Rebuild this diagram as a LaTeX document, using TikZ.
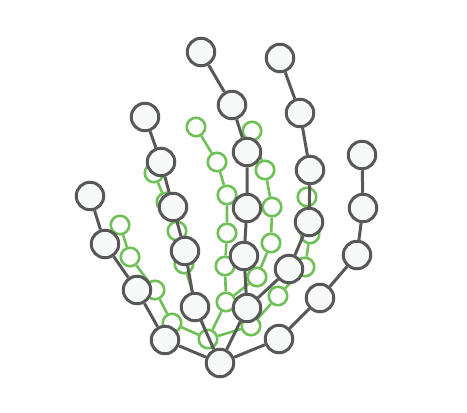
\documentclass[tikz,border=0pt]{standalone}
\usepackage{amsmath}
\usepackage{tikz}
\definecolor{bonegray}{RGB}{88,88,88}
\definecolor{jointfill}{RGB}{247,249,249}
\definecolor{ghostgreen}{RGB}{112,192,88}
\begin{document}
\begin{tikzpicture}[x=1pt,y=-1pt]
\tikzstyle{joint}=[circle,draw=bonegray,fill=jointfill,line width=3pt,minimum size=27.5pt,inner sep=0pt]
\tikzstyle{gjoint}=[circle,draw=ghostgreen,fill=white,line width=2.6pt,minimum size=18.5pt,inner sep=0pt]
\tikzstyle{bone}=[bonegray,line width=3pt]
\tikzstyle{gbone}=[ghostgreen,line width=2.6pt]
\useasboundingbox (0,0) rectangle (467,413);
\node [gjoint] (gw) at (208,339) {};
\node [gjoint] (gt1) at (172,323) {};
\node [gjoint] (gt2) at (155,290) {};
\node [gjoint] (gt3) at (130,257) {};
\node [gjoint] (gt4) at (120,225) {};
\node [gjoint] (gi1) at (196,304) {};
\node [gjoint] (gi2) at (184,264) {};
\node [gjoint] (gi3) at (177,231) {};
\node [gjoint] (gi4) at (166,202) {};
\node [gjoint] (gi5) at (154,173) {};
\node [gjoint] (gm0) at (226,302) {};
\node [gjoint] (gm1) at (225,266) {};
\node [gjoint] (gm2) at (227,233) {};
\node [gjoint] (gm3) at (227,195) {};
\node [gjoint] (gm4) at (217,162) {};
\node [gjoint] (gm5) at (196,127) {};
\node [gjoint] (gr1) at (257,277) {};
\node [gjoint] (gr2) at (271,243) {};
\node [gjoint] (gr3) at (272,207) {};
\node [gjoint] (gr4) at (265,170) {};
\node [gjoint] (gr5) at (252,131) {};
\node [gjoint] (gp1) at (251,326) {};
\node [gjoint] (gp2) at (278,296) {};
\node [gjoint] (gp3) at (305,267) {};
\node [gjoint] (gp4) at (310,234) {};
\node [gjoint] (gp5) at (307,197) {};
\draw [gbone] (gw) -- (gt1) -- (gt2) -- (gt3) -- (gt4);
\draw [gbone] (gw) -- (gi1) -- (gi2) -- (gi3) -- (gi4) -- (gi5);
\draw [gbone] (gw) -- (gm0) -- (gm1) -- (gm2) -- (gm3) -- (gm4) -- (gm5);
\draw [gbone] (gm0) -- (gr1) -- (gr2) -- (gr3) -- (gr4) -- (gr5);
\draw [gbone] (gw) -- (gp1) -- (gp2) -- (gp3) -- (gp4) -- (gp5);
\node [joint] (w) at (220,363) {};
\node [joint] (t1) at (165,340) {};
\node [joint] (t2) at (137,290) {};
\node [joint] (t3) at (105,244) {};
\node [joint] (t4) at (90,196) {};
\node [joint] (i1) at (195,307) {};
\node [joint] (i2) at (185,251) {};
\node [joint] (i3) at (173,207) {};
\node [joint] (i4) at (161,162) {};
\node [joint] (i5) at (145,117) {};
\node [joint] (m0) at (247,308) {};
\node [joint] (m1) at (244,256) {};
\node [joint] (m2) at (247,208) {};
\node [joint] (m3) at (247,152) {};
\node [joint] (m4) at (232,105) {};
\node [joint] (m5) at (201,52) {};
\node [joint] (r1) at (289,269) {};
\node [joint] (r2) at (309,222) {};
\node [joint] (r3) at (310,170) {};
\node [joint] (r4) at (300,113) {};
\node [joint] (r5) at (280,58) {};
\node [joint] (p1) at (279,339) {};
\node [joint] (p2) at (320,298) {};
\node [joint] (p3) at (357,255) {};
\node [joint] (p4) at (363,208) {};
\node [joint] (p5) at (362,155) {};
\draw [bone] (w) -- (t1) -- (t2) -- (t3) -- (t4);
\draw [bone] (w) -- (i1) -- (i2) -- (i3) -- (i4) -- (i5);
\draw [bone] (w) -- (m0) -- (m1) -- (m2) -- (m3) -- (m4) -- (m5);
\draw [bone] (m0) -- (r1) -- (r2) -- (r3) -- (r4) -- (r5);
\draw [bone] (w) -- (p1) -- (p2) -- (p3) -- (p4) -- (p5);
\end{tikzpicture}
\end{document}
